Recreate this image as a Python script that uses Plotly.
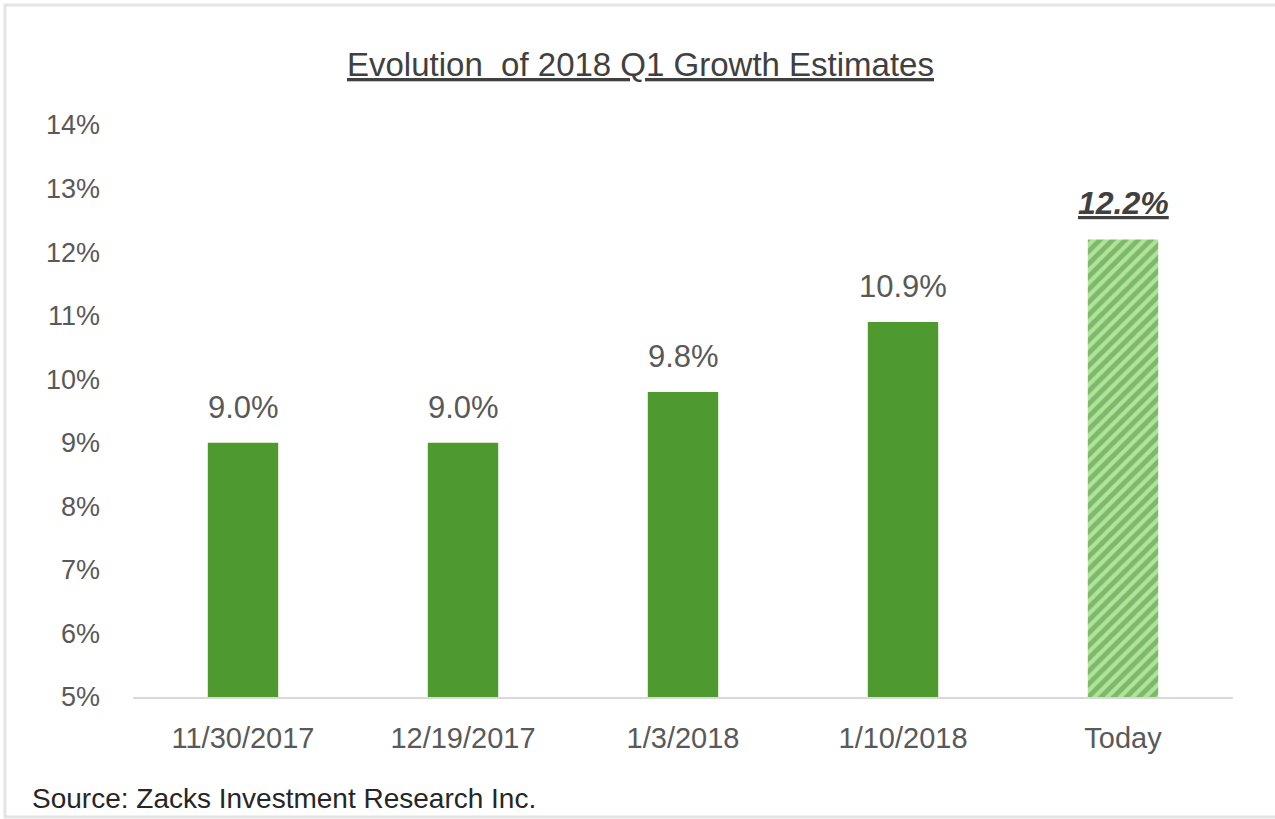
import plotly.graph_objects as go

# Q1 2018 earnings growth estimate at each revision date
dates = ["11/30/2017", "12/19/2017", "1/3/2018", "1/10/2018", "Today"]
growth = [9.0, 9.0, 9.8, 10.9, 12.2]
y_ticks = [5, 6, 7, 8, 9, 10, 11, 12, 13, 14]

GREEN = "#4f9a2f"
HATCH_GREEN = "#45912a"
LIGHT_GREEN = "#b2e2a0"
FONT = "Liberation Sans, Arial, sans-serif"

n = len(dates)

fig = go.Figure()

# Historical estimates: solid bars
fig.add_trace(go.Bar(
    x=dates[:-1], y=growth[:-1],
    marker=dict(color=GREEN, line=dict(width=0)),
    width=0.32, hoverinfo="skip",
))

# Current estimate: hatched bar
fig.add_trace(go.Bar(
    x=dates[-1:], y=growth[-1:],
    marker=dict(
        color=LIGHT_GREEN,
        line=dict(width=0),
        pattern=dict(shape="/", fgcolor=HATCH_GREEN, bgcolor=LIGHT_GREEN,
                     size=9, solidity=0.55),
    ),
    width=0.32, hoverinfo="skip",
))

# Value labels above each bar
for i, (d, v) in enumerate(zip(dates, growth)):
    last = i == n - 1
    txt = f"{v:.1f}%"
    if last:
        txt = f"<b><i><u>{txt}</u></i></b>"
    fig.add_annotation(
        x=d, y=v, text=txt, showarrow=False,
        yanchor="bottom", yshift=16,
        font=dict(family=FONT, size=31 if not last else 32,
                  color="#404040" if last else "#595959"),
    )

fig.add_annotation(
    xref="paper", yref="paper", x=0.461, y=1.0, yshift=40,
    text="<u>Evolution  of 2018 Q1 Growth Estimates</u>",
    showarrow=False, xanchor="center", yanchor="bottom",
    font=dict(family=FONT, size=33, color="#404040"),
)

fig.add_annotation(
    xref="paper", yref="paper", x=-0.094, y=0, yshift=-119,
    text="Source: Zacks Investment Research Inc.",
    showarrow=False, xanchor="left", yanchor="bottom",
    font=dict(family=FONT, size=28, color="#262626"),
)

# Thin light frame around the whole graphic
fig.add_shape(
    type="rect", xref="paper", yref="paper",
    x0=-0.1164, x1=1.2, y0=-0.2098, y1=1.2098,
    line=dict(color="#e4e4e4", width=3), fillcolor="rgba(0,0,0,0)",
    layer="below",
)

fig.update_layout(
    width=1275,
    height=819,
    margin=dict(l=133, r=42, t=125, b=122),
    paper_bgcolor="white",
    plot_bgcolor="white",
    showlegend=False,
    barmode="overlay",
    xaxis=dict(
        categoryorder="array",
        categoryarray=dates,
        showgrid=False,
        showline=True,
        linecolor="#d9d9d9",
        linewidth=2,
        ticks="",
        tickfont=dict(family=FONT, size=29, color="#595959"),
        ticklabelstandoff=14,
    ),
    yaxis=dict(
        range=[5, 14],
        tickvals=y_ticks,
        ticktext=[f"{t}%" for t in y_ticks],
        showgrid=False,
        showline=False,
        zeroline=False,
        ticks="",
        tickfont=dict(family=FONT, size=27, color="#595959"),
        ticklabelstandoff=32,
    ),
)

fig.write_html("out.html")
